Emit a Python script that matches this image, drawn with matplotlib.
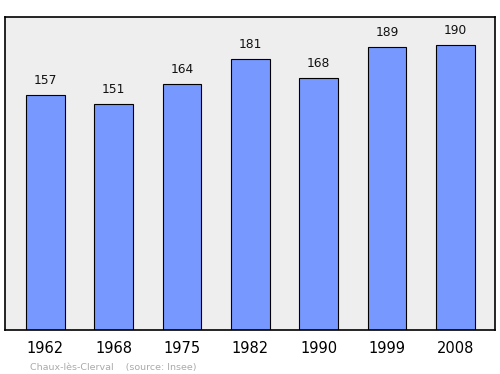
import matplotlib
matplotlib.use('Agg')
import matplotlib.pyplot as plt
import numpy as np

### Data ###
years = ['1962', '1968', '1975', '1982', '1990', '1999', '2008']
population = [157, 151, 164, 181, 168, 189, 190]

fig = plt.figure(figsize=(5, 3.74), dpi=100)
ax = fig.add_axes([0.01, 0.1176, 0.98, 0.837])
ax.set_facecolor('#eeeeee')

x = np.arange(len(years))
ax.bar(x, population, width=0.57, color='#7799ff', edgecolor='black', linewidth=0.8, zorder=2)

for xi, v in zip(x, population):
    ax.annotate(str(v), (xi, v), xytext=(0, 6), textcoords='offset points',
                ha='center', va='bottom', fontsize=8.8, color='#111111')

ax.set_xlim(-0.59, 6.58)
ax.set_ylim(0, 209)
ax.set_yticks([])
ax.set_xticks(x)
ax.set_xticklabels(years, fontsize=10.5)
ax.tick_params(axis='x', length=0, pad=8)
for s in ax.spines.values():
    s.set_linewidth(1.2)

fig.text(0.06, 0.01, 'Chaux-lès-Clerval    (source: Insee)', fontsize=6.8, color='#aaaaaa')

fig.savefig('out.png', dpi=100)
